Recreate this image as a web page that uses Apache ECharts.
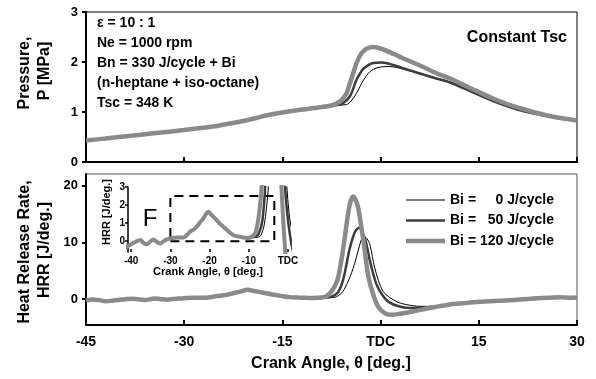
<!DOCTYPE html>
<html lang="en">
<head>
<meta charset="UTF-8">
<title>Pressure and HRR vs crank angle</title>
<script src="https://cdn.jsdelivr.net/npm/echarts@6.0.0/dist/echarts.min.js"></script>
<style>
    html, body, #chart {
        width: 596px;
        height: 379px;
        margin: 0;
        padding: 0;
        background: #fff;
    }
</style>
</head>
<body>
<div id="chart"></div>
<script>
    // cylinder pressure [MPa], common to all three runs before ignition
    var angleP_early = [-45, -42, -40, -37, -35, -32, -30, -27.5, -25, -23, -21, -19, -17.5, -15.5, -12.5, -9.5, -7.5];
    var pres_early = [0.43, 0.47, 0.50, 0.54, 0.57, 0.61, 0.64, 0.68, 0.72, 0.77, 0.82, 0.88, 0.93, 0.98, 1.04, 1.09, 1.13];

    var angleP_0 = [-5.2, -4.5, -3.7, -3.1, -2.6, -1.6, -0.4, 1.4, 4, 6, 8.5, 10.6, 14, 17, 19.5, 22, 24.5, 27, 30];
    var pres_0 = [1.15, 1.22, 1.37, 1.52, 1.64, 1.81, 1.89, 1.91, 1.84, 1.77, 1.68, 1.60, 1.41, 1.24, 1.11, 1.01, 0.94, 0.88, 0.82];

    var angleP_50 = [-6.2, -5.5, -4.7, -4.2, -3.7, -3.1, -2.6, -1.4, 0.2, 1.9, 4, 6, 8.5, 10.6, 14, 17, 19.5, 22, 24.5, 27, 30];
    var pres_50 = [1.15, 1.2, 1.31, 1.46, 1.64, 1.78, 1.87, 1.97, 1.99, 1.94, 1.85, 1.77, 1.67, 1.59, 1.40, 1.23, 1.11, 1.01, 0.94, 0.88, 0.82];

    var angleP_120 = [-6.2, -5.7, -5.2, -4.7, -4.2, -3.7, -3.1, -2.6, -2.1, -1.1, 0.4, 2, 3.5, 6, 9, 10.6, 14, 17, 19.5, 22, 24.5, 27, 30];
    var pres_120 = [1.21, 1.28, 1.37, 1.57, 1.77, 1.97, 2.14, 2.22, 2.27, 2.30, 2.25, 2.16, 2.07, 1.93, 1.75, 1.67, 1.46, 1.28, 1.15, 1.05, 0.96, 0.89, 0.83];

    // heat release rate [J/deg.], shared low temperature part and late tail
    var angleH_early = [-45, -44, -43, -42, -41, -40.2, -39, -37.7, -36.8, -36, -35, -34.3, -33.4, -32.6, -31.7, -30.9, -30, -28.4, -26.7, -25, -24, -23.3, -22.4, -21.6, -20.3, -19.5, -18.6, -17.5, -16.5, -15.2, -13.9, -12.5, -11.4, -10.5];
    var hrr_early = [-0.3, -0.1, -0.2, -0.4, -0.3, -0.2, -0.05, 0.06, -0.1, -0.17, 0.0, 0.09, -0.05, -0.13, 0.0, 0.1, 0.15, 0.2, 0.2, 0.52, 0.65, 0.8, 1.05, 1.26, 1.63, 1.45, 1.26, 1.0, 0.8, 0.55, 0.33, 0.25, 0.2, 0.18];
    var angleH_tail = [11, 13, 15.2, 18, 20.3, 23, 25.4, 27.5, 29, 30];
    var hrr_tail = [-0.9, -0.7, -0.5, -0.3, -0.2, 0.05, 0.2, 0.3, 0.2, 0.25];

    var angleH_0 = [-9.7, -8.4, -7, -6, -5.2, -4.2, -3.2, -2.9, -2.5, -2.1, -1.6, -0.9, 0.4, 2.5, 4, 6, 8, 10];
    var hrr_0 = [0.2, 0.2, 0.3, 1.0, 2.5, 5.4, 9.5, 10.6, 11.0, 10.7, 9.5, 5.5, 1.3, -0.5, -1.0, -1.3, -1.3, -1.1];

    var angleH_50 = [-9.7, -8.4, -7.5, -6.5, -5.7, -4.7, -3.9, -3.3, -2.4, -1.6, -0.6, 0.9, 2.5, 4.5, 7, 10];
    var hrr_50 = [0.2, 0.25, 0.4, 1.2, 3.5, 9.0, 11.9, 12.6, 10.7, 6.6, 2.5, -0.2, -1.2, -1.6, -1.5, -1.1];

    var angleH_120 = [-9.7, -8.4, -7.6, -6.9, -6.4, -5.7, -5.0, -4.6, -4.2, -3.8, -3.4, -2.6, -1.9, -1.1, -0.35, 0.5, 1.5, 3, 4.9, 7.5, 10];
    var hrr_120 = [0.2, 0.43, 1.2, 2.5, 4.2, 9.0, 14.8, 17.2, 18.1, 17.5, 16.0, 10.1, 4.2, 0.7, -1.4, -2.4, -2.8, -2.6, -2.2, -1.6, -1.1];

    var runNames = ["0", "50", "120"];
    var xTicksMain = [-45, -30, -15, 0, 15, 30];
    var xTicksInset = [-40, -30, -20, -10, 0];
    // dashed box in the inset: x from, x to, y from, y to
    var insetBox = [-30, -3.5, 0, 2.5];

    function pairs(xs, ys) {
        return xs.map(function (x, i) { return [x, ys[i]]; });
    }

    var presData = [
        pairs(angleP_early.concat(angleP_0), pres_early.concat(pres_0)),
        pairs(angleP_early.concat(angleP_50), pres_early.concat(pres_50)),
        pairs(angleP_early.concat(angleP_120), pres_early.concat(pres_120))
    ];
    var hrrData = [
        pairs(angleH_early.concat(angleH_0, angleH_tail), hrr_early.concat(hrr_0, hrr_tail)),
        pairs(angleH_early.concat(angleH_50, angleH_tail), hrr_early.concat(hrr_50, hrr_tail)),
        pairs(angleH_early.concat(angleH_120, angleH_tail), hrr_early.concat(hrr_120, hrr_tail))
    ];

    var FONT = "'Liberation Sans', Arial, sans-serif";
    var lineStyles = [
        {color: "#000", width: 1},
        {color: "#3c3c3c", width: 2.5},
        {color: "#8a8a8a", width: 4.5}
    ];
    // legend icons: flat bars with the same thickness as the lines
    var legendIcons = [
        "path://M0,0H39V1H0Z",
        "path://M0,0H39V2.5H0Z",
        "path://M0,0H39V4.5H0Z"
    ];

    var myChart = echarts.init(document.getElementById("chart"));

    var series = [];
    runNames.forEach(function (name, i) {
        series.push({
            name: name, type: "line", xAxisIndex: 0, yAxisIndex: 0,
            data: presData[i], showSymbol: false, symbol: "none", smooth: 0.3,
            lineStyle: lineStyles[i], color: lineStyles[i].color, silent: true
        });
    });
    runNames.forEach(function (name, i) {
        series.push({
            name: name, type: "line", xAxisIndex: 1, yAxisIndex: 1,
            data: hrrData[i], showSymbol: false, symbol: "none", smooth: 0.3,
            lineStyle: lineStyles[i], color: lineStyles[i].color, silent: true
        });
    });
    runNames.forEach(function (name, i) {
        var s = {
            name: name, type: "line", xAxisIndex: 2, yAxisIndex: 2,
            data: hrrData[i], showSymbol: false, symbol: "none", smooth: 0.3,
            lineStyle: {color: lineStyles[i].color, width: i === 2 ? 4 : lineStyles[i].width},
            color: lineStyles[i].color, silent: true, clip: true
        };
        if (i === 0) {
            s.markArea = {
                silent: true,
                itemStyle: {color: "rgba(0,0,0,0)", borderColor: "#000", borderWidth: 2, borderType: [9, 6]},
                data: [[{xAxis: insetBox[0], yAxis: insetBox[2]}, {xAxis: insetBox[1], yAxis: insetBox[3]}]]
            };
        }
        series.push(s);
    });

    var tickLabel = {fontFamily: FONT, fontWeight: "bold", color: "#000"};

    myChart.setOption({
        animation: false,
        backgroundColor: "#fff",
        grid: [
            {left: 86, top: 12, width: 491, height: 150, show: true, borderColor: "#000", borderWidth: 1},
            {left: 86, top: 174, width: 491, height: 151, show: true, borderColor: "#555", borderWidth: 1},
            {left: 128, top: 187, width: 162, height: 65}
        ],
        xAxis: [
            {
                gridIndex: 0, type: "value", min: -45, max: 30, interval: 15,
                axisLine: {onZero: false, lineStyle: {color: "#000", width: 2}},
                axisTick: {inside: true, length: 5, lineStyle: {color: "#000", width: 2}},
                axisLabel: {show: false}, splitLine: {show: false}
            },
            {
                gridIndex: 1, type: "value", min: -45, max: 30, interval: 15,
                axisLine: {onZero: false, lineStyle: {color: "#000", width: 2}},
                axisTick: {inside: true, length: 5, lineStyle: {color: "#000", width: 2}},
                axisLabel: Object.assign({
                    fontSize: 14, margin: 10,
                    customValues: xTicksMain,
                    formatter: function (v) { return v === 0 ? "TDC" : String(v); }
                }, tickLabel),
                splitLine: {show: false}
            },
            {
                gridIndex: 2, type: "value", min: -40.8, max: 0.5,
                axisLine: {show: false, onZero: false},
                axisTick: {inside: true, length: 3, customValues: xTicksInset, lineStyle: {color: "#000", width: 1.5}},
                axisLabel: Object.assign({
                    fontSize: 10, margin: 4,
                    customValues: xTicksInset,
                    formatter: function (v) { return v === 0 ? "TDC" : String(v); }
                }, tickLabel),
                splitLine: {show: false}
            }
        ],
        yAxis: [
            {
                gridIndex: 0, type: "value", min: 0, max: 3, interval: 1,
                axisLine: {show: true, onZero: false, lineStyle: {color: "#000", width: 2}},
                axisTick: {show: true, length: 4, lineStyle: {color: "#000", width: 2}},
                axisLabel: Object.assign({fontSize: 13, margin: 8}, tickLabel),
                splitLine: {show: false}
            },
            {
                gridIndex: 1, type: "value", min: -4.6, max: 22.1,
                axisLine: {show: true, onZero: false, lineStyle: {color: "#000", width: 2}},
                axisTick: {show: true, length: 4, customValues: [0, 10, 20], lineStyle: {color: "#000", width: 2}},
                axisLabel: Object.assign({fontSize: 13, margin: 8, customValues: [0, 10, 20]}, tickLabel),
                splitLine: {show: false}
            },
            {
                gridIndex: 2, type: "value", min: -0.6, max: 3,
                axisLine: {show: true, onZero: false, lineStyle: {color: "#000", width: 1.5}},
                axisTick: {show: true, length: 3, customValues: [0, 1, 2, 3], lineStyle: {color: "#000", width: 1.5}},
                axisLabel: Object.assign({fontSize: 10, margin: 3, customValues: [0, 1, 2, 3]}, tickLabel),
                splitLine: {show: false}
            }
        ],
        legend: {
            data: runNames.map(function (name, i) {
                return {name: name, icon: legendIcons[i], itemStyle: {color: lineStyles[i].color}};
            }),
            orient: "vertical",
            left: 401,
            top: 188,
            itemWidth: 39,
            itemHeight: 14,
            itemGap: 6.5,
            itemTextGap: 3,
            selectedMode: false,
            textStyle: {
                fontFamily: FONT, fontWeight: "bold", fontSize: 14, color: "#000",
                rich: {
                    a: {fontFamily: FONT, fontWeight: "bold", fontSize: 14},
                    n1: {fontFamily: FONT, fontWeight: "bold", fontSize: 14, padding: [0, 0, 0, 15.6]},
                    n2: {fontFamily: FONT, fontWeight: "bold", fontSize: 14, padding: [0, 0, 0, 7.8]},
                    n3: {fontFamily: FONT, fontWeight: "bold", fontSize: 14}
                }
            },
            formatter: function (name) {
                return "{a|Bi = }{n" + name.length + "|" + name + " J/cycle}";
            }
        },
        graphic: [
            {
                type: "text", left: 97, top: 13,
                style: {
                    text: "\u03b5 = 10 : 1\nNe = 1000 rpm\nBn = 330 J/cycle + Bi\n(n-heptane + iso-octane)\nTsc = 348 K",
                    font: "bold 14px " + FONT, lineHeight: 20, fill: "#000"
                }
            },
            {
                type: "text", x: 567, y: 38,
                style: {text: "Constant Tsc", font: "bold 16px " + FONT, align: "right", verticalAlign: "middle", fill: "#000"}
            },
            {
                type: "text", x: 25, y: 73, rotation: Math.PI / 2,
                style: {text: "Pressure,", font: "bold 16px " + FONT, align: "center", verticalAlign: "middle", fill: "#000"}
            },
            {
                type: "text", x: 45, y: 71, rotation: Math.PI / 2,
                style: {text: "P [MPa]", font: "bold 16px " + FONT, align: "center", verticalAlign: "middle", fill: "#000"}
            },
            {
                type: "text", x: 25, y: 252, rotation: Math.PI / 2,
                style: {text: "Heat Release Rate,", font: "bold 16px " + FONT, align: "center", verticalAlign: "middle", fill: "#000"}
            },
            {
                type: "text", x: 45, y: 250, rotation: Math.PI / 2,
                style: {text: "HRR [J/deg.]", font: "bold 16px " + FONT, align: "center", verticalAlign: "middle", fill: "#000"}
            },
            {
                type: "text", x: 331, y: 364,
                style: {text: "Crank Angle, \u03b8 [deg.]", font: "bold 16px " + FONT, align: "center", verticalAlign: "middle", fill: "#000"}
            },
            {
                type: "text", x: 107, y: 212, rotation: Math.PI / 2,
                style: {text: "HRR [J/deg.]", font: "bold 11px " + FONT, align: "center", verticalAlign: "middle", fill: "#000"}
            },
            {
                type: "text", x: 208, y: 272,
                style: {text: "Crank Angle, \u03b8 [deg.]", font: "bold 11px " + FONT, align: "center", verticalAlign: "middle", fill: "#000"}
            },
            {
                type: "text", x: 150, y: 219,
                style: {text: "F", font: "24px " + FONT, align: "center", verticalAlign: "middle", fill: "#000"}
            }
        ],
        series: series
    });
</script>
</body>
</html>
